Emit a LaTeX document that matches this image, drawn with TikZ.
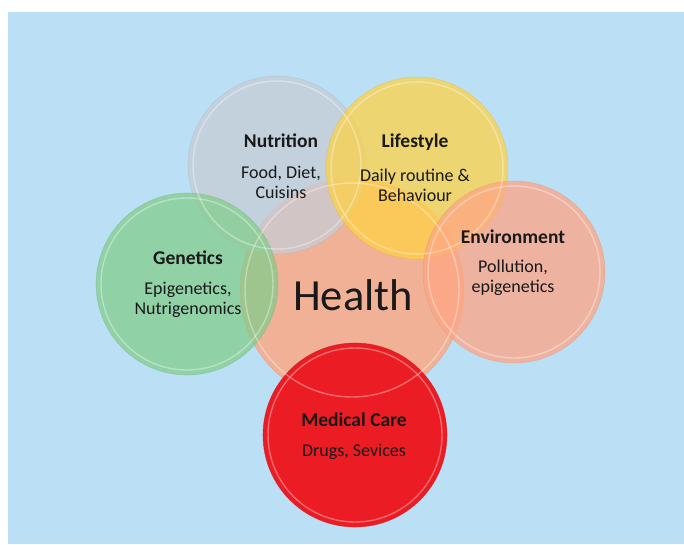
\documentclass[tikz,border=0pt]{standalone}
\usepackage{fontspec}
\setmainfont{Carlito}
\usepackage{xcolor}
\usetikzlibrary{positioning}

\definecolor{skyback}{RGB}{187,224,245}
\definecolor{healthc}{RGB}{246,172,140}
\definecolor{nutrc}{RGB}{199,205,214}
\definecolor{lifec}{RGB}{255,210,70}
\definecolor{genec}{RGB}{131,205,140}
\definecolor{envc}{RGB}{255,165,132}
\definecolor{medc}{RGB}{236,28,36}
\definecolor{inkc}{RGB}{25,25,25}

\begin{document}
\begin{tikzpicture}[
    x=1pt, y=-1pt,
    bubble/.style={circle, inner sep=0pt, fill=#1, fill opacity=0.75, draw=#1!85!black, draw opacity=0.35, line width=0.6pt},
    head/.style={font=\fontsize{19.5}{22}\selectfont\bfseries, text=inkc, inner sep=0pt},
    sub/.style={font=\fontsize{18}{20}\selectfont, text=inkc, align=center, inner sep=0pt},
    rim/.style={white, opacity=0.35, line width=1.4pt},
]
\useasboundingbox (0,0) rectangle (684,544);
\fill[white] (0,0) rectangle (684,544);
\fill[skyback] (8,12) rectangle (684,544);

% ---------- big centre circle ----------
\node[bubble=healthc, fill opacity=0.9, minimum size=224pt] (health) at (352,290) {};

% ---------- surrounding factors ----------
\node[bubble=nutrc, minimum size=178pt] (nutr) at (277,165) {};
\node[bubble=lifec, minimum size=182pt] (life) at (417,168) {};
\node[bubble=genec, minimum size=182pt] (gene) at (187,284) {};
\node[bubble=envc, minimum size=182pt] (env) at (514,272) {};
\node[bubble=medc, fill opacity=1, draw opacity=0.6, minimum size=184pt] (med) at (355,435) {};

% lighter rim inside each circle
\foreach \n/\r in {health/107, nutr/84, life/86, gene/86, env/86, med/87}
  \draw[rim] (\n.center) circle[radius=\r];

% ---------- labels ----------
\node[font=\fontsize{44.5}{46}\selectfont, text=inkc, inner sep=0pt] (healthlbl) at (353,295) {Health};

\node[head] (nutrlbl) at (281,141) {Nutrition};
\node[sub, below=18pt of nutrlbl] (nutrsub) {Food, Diet,\\Cuisins};

\node[head] (lifelbl) at (415,142) {Lifestyle};
\node[sub, below=18pt of lifelbl] (lifesub) {Daily routine \&\\Behaviour};

\node[head] (genelbl) at (188,258) {Genetics};
\node[sub, below=17pt of genelbl] (genesub) {Epigenetics,\\Nutrigenomics};

\node[head] (envlbl) at (513,237) {Environment};
\node[sub, below=16pt of envlbl] (envsub) {Pollution,\\epigenetics};

\node[head] (medlbl) at (354,420) {Medical Care};
\node[sub, below=17pt of medlbl] (medsub) {Drugs, Sevices};

\end{tikzpicture}
\end{document}
